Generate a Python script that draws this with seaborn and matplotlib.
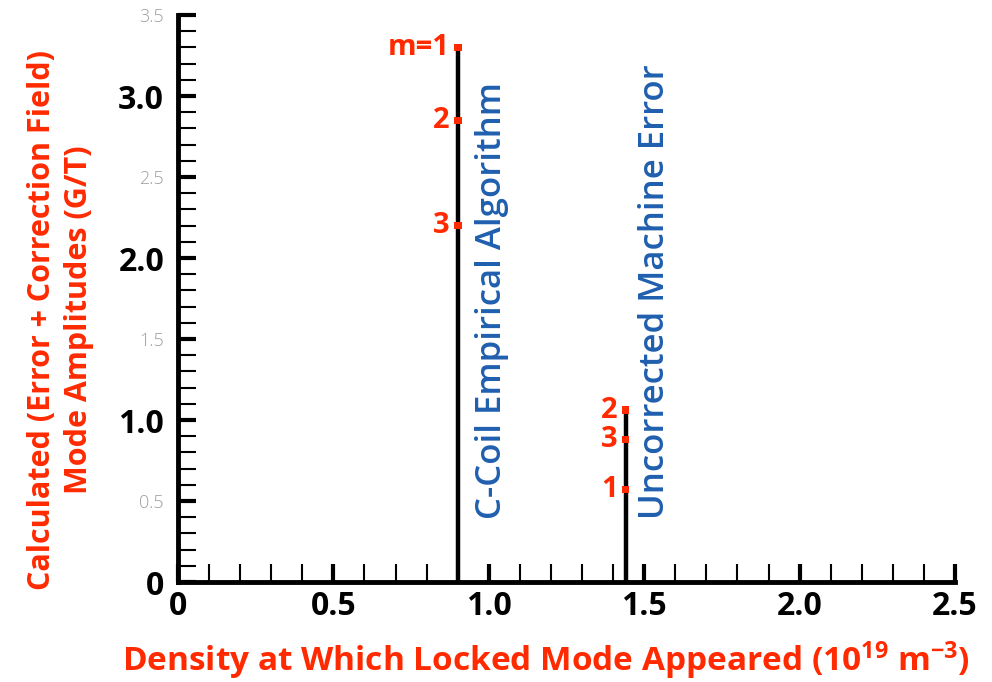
import matplotlib
matplotlib.use("Agg")
import matplotlib.pyplot as plt
from matplotlib.ticker import MultipleLocator
import seaborn as sns
import pandas as pd

# Locked-mode onset densities and calculated mode amplitudes
case_names = ["C-Coil Empirical Algorithm", "Uncorrected Machine Error"]
case_density = [0.90, 1.44]
mode_labels = [["m=1", "2", "3"], ["1", "2", "3"]]
mode_amplitudes = [[3.30, 2.85, 2.20], [0.57, 1.06, 0.88]]

x_ticks = [0, 0.5, 1.0, 1.5, 2.0, 2.5]
x_tick_labels = ["0", "0.5", "1.0", "1.5", "2.0", "2.5"]
y_ticks = [0, 0.5, 1.0, 1.5, 2.0, 2.5, 3.0, 3.5]
y_tick_labels = ["0", "0.5", "1.0", "1.5", "2.0", "2.5", "3.0", "3.5"]
y_bold = [True, False, True, False, True, False, True, False]

rows = []
for name, dens, labs, amps in zip(case_names, case_density, mode_labels, mode_amplitudes):
    for lab, amp in zip(labs, amps):
        rows.append({"case": name, "density": dens, "mode": lab, "amplitude": amp})
df = pd.DataFrame(rows)

sns.set_theme(style="white")
plt.rcParams["font.family"] = ["Open Sans", "DejaVu Sans"]
plt.rcParams["mathtext.default"] = "regular"

RED = "#ff2a00"
BLUE = "#1f5fae"

fig = plt.figure(figsize=(9.92, 6.82), dpi=100)
ax = fig.add_axes([0.1794, 0.1466, 0.9627 - 0.1794, 0.978 - 0.1466])

# stems from zero to the largest amplitude of each case
for name, dens, amps in zip(case_names, case_density, mode_amplitudes):
    ax.vlines(dens, 0, max(amps), color="black", lw=3.2, zorder=2)

sns.scatterplot(data=df, x="density", y="amplitude", marker="s", s=30,
                color=RED, edgecolor="none", ax=ax, zorder=3, legend=False)

for _, r in df.iterrows():
    ax.text(r["density"] - 0.025, r["amplitude"], r["mode"], color=RED,
            fontsize=21, fontweight="bold", ha="right", va="center")

# case annotations, rotated alongside each stem
ax.text(case_density[0] + 0.11, 1.74, case_names[0], rotation=90, color=BLUE,
        fontsize=25, fontweight="semibold", ha="center", va="center")
ax.text(case_density[1] + 0.095, 1.79, case_names[1], rotation=90, color=BLUE,
        fontsize=25, fontweight="semibold", ha="center", va="center")

ax.set_xlim(0, 2.5)
ax.set_ylim(0, 3.5)

for side in ["top", "right"]:
    ax.spines[side].set_visible(False)
for side in ["left", "bottom"]:
    ax.spines[side].set_linewidth(3.5)
    ax.spines[side].set_color("black")

ax.set_xticks(x_ticks)
ax.set_xticklabels(x_tick_labels)
ax.set_yticks(y_ticks)
ax.set_yticklabels(y_tick_labels)
ax.xaxis.set_minor_locator(MultipleLocator(0.1))
ax.yaxis.set_minor_locator(MultipleLocator(0.1))
ax.tick_params(axis="both", which="both", bottom=True, left=True,
               top=False, right=False)
ax.tick_params(axis="both", which="major", direction="in", length=13, width=3,
               color="black")
ax.tick_params(axis="both", which="minor", direction="in", length=13, width=1.5,
               color="black")
ax.tick_params(axis="x", which="major", pad=6)
ax.tick_params(axis="y", which="major", pad=10)

for t in ax.get_xticklabels():
    t.set_fontsize(23)
    t.set_fontweight("bold")
    t.set_color("black")
for t, b in zip(ax.get_yticklabels(), y_bold):
    if b:
        t.set_fontsize(23)
        t.set_fontweight("bold")
        t.set_color("black")
    else:
        t.set_fontsize(13)
        t.set_fontweight("light")
        t.set_color("#a0a0a0")

ax.set_xlabel("Density at Which Locked Mode Appeared (10$^{19}$ m$^{-3}$)",
              color=RED, fontsize=24, fontweight="bold")
ax.xaxis.set_label_coords(0.474, -0.101)
ax.set_ylabel("Calculated (Error + Correction Field)\nMode Amplitudes (G/T)",
              color=RED, fontsize=22, fontweight="bold", linespacing=1.3)
ax.yaxis.set_label_coords(-0.108, 0.462)
ax.grid(False)

fig.savefig("out.png", dpi=100)
